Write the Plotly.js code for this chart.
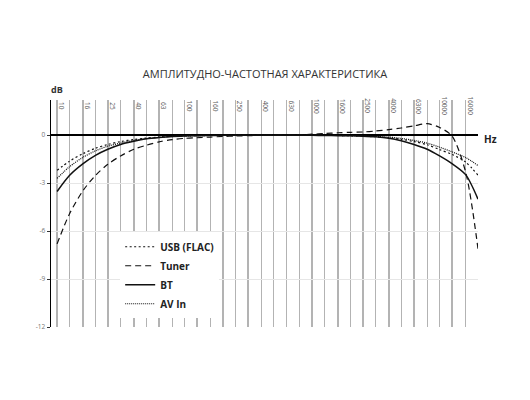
<!DOCTYPE html>
<html>
<head>
<meta charset="utf-8">
<script src="https://cdn.plot.ly/plotly-3.0.1.min.js"></script>
<style>
  html, body { margin: 0; padding: 0; background: #fff; }
  #chart { width: 530px; height: 400px; }
</style>
</head>
<body>
<div id="chart"></div>
<script>
// частоты 1/3 октавы (сетка и точки кривых)
const freqs = [10, 12.5, 16, 20, 25, 31.5, 40, 50, 63, 80, 100, 125, 160, 200, 250, 315, 400, 500, 630, 800,
               1000, 1250, 1600, 2000, 2500, 3150, 4000, 5000, 6300, 8000, 10000, 12500, 16000, 20000];
const freqLabels = [10, 16, 25, 40, 63, 100, 160, 250, 400, 630, 1000, 1600, 2500, 4000, 6300, 10000, 16000];
const dbTicks = [0, -3, -6, -9, -12];

const usbFlac = [-2.2, -1.63, -1.15, -0.82, -0.58, -0.4, -0.27, -0.18, -0.12, -0.07, -0.04, -0.03, -0.02, -0.01, 0, 0, 0, 0, 0, 0,
                 0, -0.01, -0.02, -0.04, -0.06, -0.1, -0.16, -0.26, -0.4, -0.6, -0.9, -1.2, -1.68, -2.5];
const tuner = [-6.8, -4.93, -3.46, -2.52, -1.82, -1.3, -0.88, -0.63, -0.42, -0.28, -0.2, -0.16, -0.12, -0.08, -0.05, -0.03, -0.01, 0, 0, 0.02,
               0.06, 0.1, 0.15, 0.18, 0.2, 0.26, 0.35, 0.45, 0.58, 0.72, 0.48, -0.05, -2.3, -7.1];
const bt = [-3.52, -2.52, -1.78, -1.26, -0.88, -0.58, -0.38, -0.23, -0.14, -0.08, -0.05, -0.03, -0.02, -0.01, 0, 0, 0, 0, 0, 0,
            -0.01, -0.02, -0.03, -0.04, -0.06, -0.1, -0.19, -0.35, -0.58, -0.88, -1.3, -1.78, -2.47, -4.0];
const avIn = [-2.7, -1.98, -1.38, -0.98, -0.69, -0.49, -0.33, -0.22, -0.14, -0.09, -0.05, -0.03, -0.02, -0.01, 0, 0, 0, 0, 0, 0,
              0, -0.01, -0.02, -0.03, -0.05, -0.08, -0.12, -0.2, -0.33, -0.5, -0.75, -1.04, -1.4, -1.9];

const series = [
    { name: 'USB (FLAC)', y: usbFlac, dash: '2px,2.5px', width: 1.2 },
    { name: 'Tuner', y: tuner, dash: '6px,4px', width: 1.2 },
    { name: 'BT', y: bt, dash: 'solid', width: 1.5 },
    { name: 'AV In', y: avIn, dash: '1px,1px', width: 1.2 }
];

const traces = series.map(s => ({
    x: freqs, y: s.y, name: s.name, type: 'scatter', mode: 'lines',
    line: { color: '#111', width: s.width, dash: s.dash, shape: 'spline', smoothing: 0.8 },
    hoverinfo: 'skip'
}));

const annotations = freqLabels.map(f => ({
    x: Math.log10(f), xref: 'x', y: 1, yref: 'paper',
    text: String(f), showarrow: false, textangle: 90,
    xanchor: 'center', yanchor: 'middle', xshift: 5, yshift: -6,
    font: { family: 'Open Sans', size: 6.5, color: '#555' }
}));
annotations.push({
    x: 0, xref: 'paper', y: 1, yref: 'paper', text: 'dB', showarrow: false,
    xanchor: 'left', yanchor: 'middle', xshift: -2, yshift: 11,
    font: { family: 'Open Sans', size: 9, color: '#333', weight: 'bold' }
});
annotations.push({
    x: 1, xref: 'paper', y: 0, yref: 'y', text: 'Hz', showarrow: false,
    xanchor: 'left', yanchor: 'middle', xshift: 4, yshift: -4,
    font: { family: 'Open Sans', size: 10, color: '#222', weight: 'bold' }
});

const layout = {
    width: 530, height: 400,
    margin: { l: 51, r: 52, t: 100, b: 73 },
    paper_bgcolor: '#fff', plot_bgcolor: '#fff',
    font: { family: 'Open Sans', color: '#333' },
    title: {
        text: 'АМПЛИТУДНО-ЧАСТОТНАЯ ХАРАКТЕРИСТИКА',
        font: { family: 'Open Sans', size: 11, color: '#333' },
        x: 0.5, xanchor: 'center', y: 1 - 74 / 400, yanchor: 'middle', yref: 'container'
    },
    xaxis: {
        type: 'log', range: [Math.log10(8.96), Math.log10(20010)],
        tickmode: 'array', tickvals: freqs, showticklabels: false, ticks: '',
        showgrid: true, gridcolor: '#b3b3b3', gridwidth: 1.4,
        showline: false, zeroline: false, fixedrange: true
    },
    yaxis: {
        range: [-12, 2.2], tickmode: 'array', tickvals: dbTicks, ticktext: dbTicks.map(String),
        showgrid: true, gridcolor: '#e6e6e6', gridwidth: 1,
        zeroline: true, zerolinecolor: '#000', zerolinewidth: 2.2,
        showline: true, linecolor: '#000', linewidth: 1.5,
        ticks: 'outside', ticklen: 3, tickcolor: '#333',
        tickfont: { family: 'Open Sans', size: 6.5, color: '#777' }, fixedrange: true
    },
    showlegend: true,
    legend: {
        x: 0.162, xanchor: 'left', y: 0.228, yanchor: 'middle',
        bgcolor: '#fff', borderwidth: 0,
        font: { family: 'Open Sans', size: 10, color: '#222', weight: 'bold' }
    },
    annotations: annotations
};

Plotly.newPlot('chart', traces, layout, { displayModeBar: false, staticPlot: true });
</script>
</body>
</html>
